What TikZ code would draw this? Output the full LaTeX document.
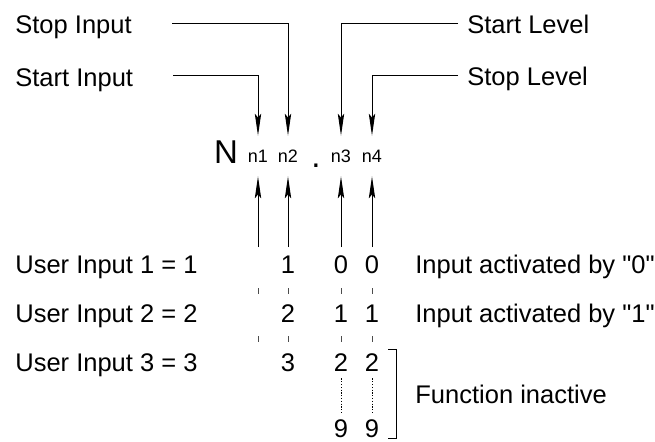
\documentclass[tikz,border=0pt]{standalone}
\usepackage{fontspec}
\setmainfont{Liberation Sans}[Ligatures=TeXOff]
\usetikzlibrary{arrows.meta}

\begin{document}
\begin{tikzpicture}[
    x=0.5pt, y=-0.5pt,
    every node/.style={inner sep=0pt, font=\fontsize{12.75}{15}\selectfont},
    txt/.style={anchor=base west},
    digit/.style={anchor=base},
    big/.style={anchor=base, font=\fontsize{16.5}{18}\selectfont},
    colhead/.style={font=\fontsize{9}{10}\selectfont, minimum height=20pt},
    pointer/.style={
        -{Stealth[length=11pt,width=3.2pt,inset=2pt]},
        line width=0.5pt
    },
    tick/.style={line width=0.4pt, black!70},
    dotline/.style={line width=0.4pt, dash pattern=on 0.6pt off 0.8pt}
]
\useasboundingbox (0,0) rectangle (655,441);

% Code N n1 n2 . n3 n4
\node[big] (N) at (226,163) {N};
\node[colhead] (n1) at (258,156) {n1};
\node[colhead] (n2) at (288,156) {n2};
\node[big] (dot) at (316,167) {.};
\node[colhead] (n3) at (341,156) {n3};
\node[colhead] (n4) at (372,156) {n4};

% Labels on top
\node[txt] (stopin) at (15,33) {Stop Input};
\node[txt] (startin) at (15,86) {Start Input};
\node[txt] (startlv) at (467,33) {Start Level};
\node[txt] (stoplv) at (467,85) {Stop Level};

\coordinate (stopin-w) at (172,23);
\coordinate (startin-w) at (173,75);
\coordinate (startlv-e) at (458,23);
\coordinate (stoplv-e) at (458,75);

\draw[pointer] (stopin-w) -| (n2.north);
\draw[pointer] (startin-w) -| (n1.north);
\draw[pointer] (startlv-e) -| (n3.north);
\draw[pointer] (stoplv-e) -| (n4.north);

% Arrows from below
\foreach \c/\x in {1/258,2/288,3/341,4/372} {
    \coordinate (b\c) at (\x,247);
    \draw[pointer] (b\c) -- (n\c.south);
}

% Rows
\node[txt] (user1) at (15,273) {User Input 1 = 1};
\node[txt] (user2) at (15,322) {User Input 2 = 2};
\node[txt] (user3) at (15,371) {User Input 3 = 3};

\node[digit] (r1c2) at (288,273) {1};
\node[digit] (r1c3) at (341,273) {0};
\node[digit] (r1c4) at (372,273) {0};
\node[digit] (r2c2) at (288,322) {2};
\node[digit] (r2c3) at (341,322) {1};
\node[digit] (r2c4) at (372,322) {1};
\node[digit] (r3c2) at (288,371) {3};
\node[digit] (r3c3) at (341,371) {2};
\node[digit] (r3c4) at (372,371) {2};
\node[digit] (r9c3) at (341,437) {9};
\node[digit] (r9c4) at (372,437) {9};

\foreach \x in {258,288,341,372} {
    \draw[tick] (\x,288) -- (\x,294);
    \draw[tick] (\x,336) -- (\x,342);
}
\draw[dotline, shorten <=3.5pt, shorten >=3pt] (r3c3.south) -- (r9c3.north);
\draw[dotline, shorten <=3.5pt, shorten >=3pt] (r3c4.south) -- (r9c4.north);

% Meaning of the level digits
\node[txt] (act0) at (415,273) {Input activated by "0"};
\node[txt] (act1) at (415,322) {Input activated by "1"};
\node[txt] (inact) at (415,403) {Function inactive};
\draw[line width=0.5pt] (388,349) -| (396,438) -- (388,438);

\end{tikzpicture}
\end{document}
